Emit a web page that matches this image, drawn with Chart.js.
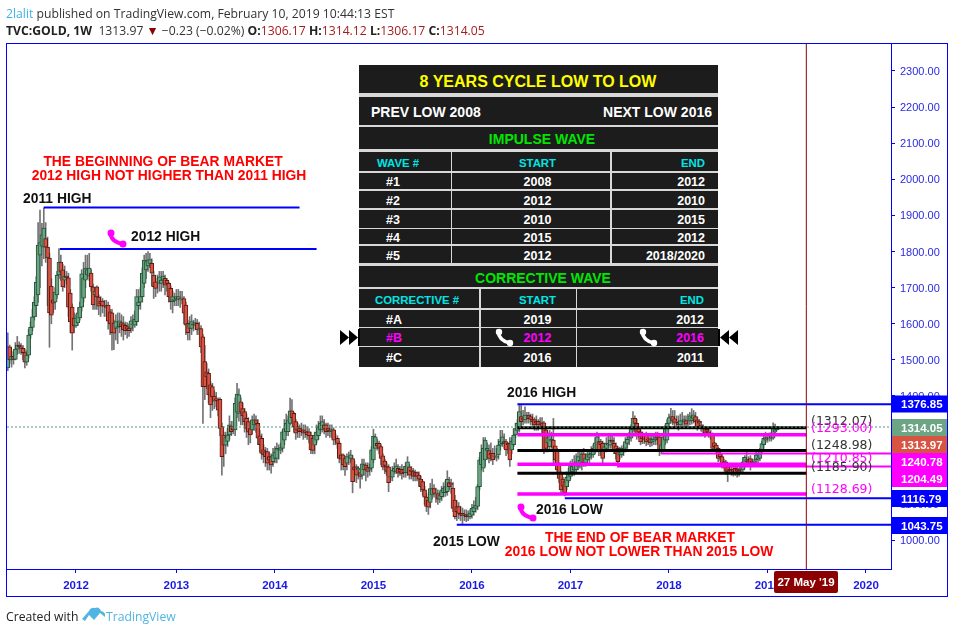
<!DOCTYPE html>
<html>
<head>
<meta charset="utf-8">
<title>TVC:GOLD 1W</title>
<script src="https://cdn.jsdelivr.net/npm/chart.js@4/dist/chart.umd.js"></script>
<style>
  html, body { margin: 0; padding: 0; background: #fff; }
  #page { position: relative; width: 955px; height: 633px; overflow: hidden; }
  #chart { position: absolute; left: 0; top: 0; }
  .head { position: absolute; left: 6px; font: 12.2px "Open Sans", sans-serif; color: #333; white-space: nowrap; }
  .head b { color: #222; }
  .red { color: #a61c1c; }
  .cell { position: absolute; background: #1c1c1c; color: #fff; font: bold 12.5px "Liberation Sans", sans-serif; white-space: nowrap; }
  .cell span { position: absolute; top: calc(50% + 1px); transform: translateY(-50%); }
  svg { position: absolute; overflow: visible; }
</style>
</head>
<body>
<div id="page">
  <canvas id="chart" width="955" height="633"></canvas>
  <div class="head" style="top:5px"><span style="color:#3bb3e4">2lalit</span> published on TradingView.com, February 10, 2019 10:44:13 EST</div>
  <div class="head" style="top:22px"><b>TVC:GOLD, 1W</b>&nbsp; 1313.97 <span style="color:#8b0000">▼</span> −0.23 (−0.02%) <b>O:</b><span class="red">1306.17</span> <b>H:</b><span class="red">1314.12</span> <b>L:</b><span class="red">1306.17</span> <b>C:</b><span class="red">1314.05</span></div>
  <div class="head" style="top:608px;color:#222">Created with</div>
  <svg style="left:82px;top:606px" width="24" height="17"><path d="M0 13 L7 5 Q9 1 13 2 Q17 0 19 5 Q24 6 23 11 L18 7 L12 14 L7 9 L3 15 Z" fill="#50b5e3"/></svg>
  <div class="head" style="left:106px;top:608px;color:#50b5e3">TradingView</div>
  <div id="board"></div>
</div>
<script>
// weekly bars, week 0 = late April 2011
const opens = [
  1478,1536,1500,1510,1501,1530,1541,1536,1532,1520,
  1494,1513,1569,1590,1619,1650,1680,1790,1815,1812,
  1836,1812,1782,1704,1666,1660,1680,1735,1771,1749,
  1721,1732,1727,1685,1646,1616,1594,1602,1616,1646,
  1671,1721,1735,1732,1740,1702,1680,1702,1674,1663,
  1663,1652,1650,1652,1633,1630,1602,1587,1590,1592,
  1603,1600,1596,1592,1588,1587,1597,1596,1606,1650,
  1660,1675,1712,1749,1760,1767,1767,1735,1716,1712,
  1712,1712,1721,1726,1720,1712,1698,1661,1664,1668,
  1668,1668,1670,1670,1652,1601,1587,1587,1600,1596,
  1601,1583,1587,1564,1495,1467,1463,1431,1426,1400,
  1392,1389,1391,1315,1292,1264,1274,1292,1317,1315,
  1306,1355,1352,1384,1365,1357,1338,1329,1310,1306,
  1320,1334,1324,1290,1283,1251,1246,1246,1232,1232,
  1218,1227,1227,1250,1250,1255,1278,1301,1301,1324,
  1359,1352,1329,1315,1311,1306,1306,1303,1301,1301,
  1292,1283,1264,1278,1290,1306,1306,1320,1320,1311,
  1305,1301,1306,1283,1283,1269,1237,1237,1227,1214,
  1227,1227,1227,1204,1204,1195,1188,1181,1195,1209,
  1203,1195,1200,1223,1255,1269,1269,1260,1234,1220,
  1206,1204,1175,1175,1191,1191,1200,1197,1197,1197,
  1188,1188,1204,1195,1191,1188,1188,1181,1170,1163,
  1140,1120,1112,1105,1126,1144,1130,1130,1114,1121,
  1132,1132,1135,1160,1158,1145,1112,1094,1094,1075,
  1075,1070,1072,1070,1066,1070,1080,1089,1094,1149,
  1210,1200,1223,1249,1249,1241,1241,1233,1230,1237,
  1264,1268,1274,1274,1269,1269,1251,1265,1292,1305,
  1310,1343,1338,1334,1340,1347,1343,1335,1335,1330,
  1330,1326,1326,1326,1306,1270,1260,1275,1278,1262,
  1250,1209,1186,1170,1163,1149,1165,1177,1190,1195,
  1195,1206,1206,1215,1240,1215,1223,1230,1237,1237,
  1251,1251,1274,1274,1269,1251,1255,1264,1264,1278,
  1269,1262,1255,1237,1237,1245,1255,1269,1283,1283,
  1306,1338,1324,1310,1301,1290,1292,1292,1280,1282,
  1272,1275,1278,1287,1287,1251,1251,1278,1278,1324,
  1340,1343,1337,1330,1327,1320,1330,1328,1332,1330,
  1330,1332,1336,1343,1334,1330,1320,1312,1310,1308,
  1301,1296,1292,1270,1264,1255,1240,1232,1218,1218,
  1204,1197,1198,1196,1200,1198,1195,1195,1195,1209,
  1218,1224,1227,1220,1216,1223,1225,1227,1246,1265,
  1278,1284,1281,1283,1283,1300,1306
];
const highs = [
  1575,1541,1525,1522,1548,1565,1550,1545,1540,1530,
  1525,1585,1605,1640,1675,1730,1880,1915,1878,1921,
  1880,1840,1795,1725,1680,1700,1745,1808,1790,1765,
  1760,1745,1740,1695,1655,1630,1625,1645,1660,1750,
  1770,1790,1790,1795,1750,1710,1700,1705,1680,1675,
  1670,1665,1665,1660,1640,1640,1610,1625,1630,1630,
  1625,1620,1605,1603,1600,1620,1625,1635,1695,1695,
  1700,1755,1790,1795,1800,1795,1780,1745,1725,1735,
  1745,1745,1745,1735,1725,1715,1705,1690,1685,1695,
  1695,1690,1690,1675,1660,1610,1620,1625,1610,1615,
  1612,1605,1595,1570,1540,1490,1475,1440,1435,1415,
  1410,1395,1395,1325,1300,1300,1310,1345,1330,1330,
  1395,1435,1420,1395,1380,1365,1350,1340,1325,1345,
  1350,1345,1335,1305,1295,1265,1258,1255,1245,1240,
  1255,1260,1270,1265,1270,1305,1335,1350,1345,1394,
  1390,1355,1335,1325,1320,1325,1320,1320,1315,1310,
  1300,1290,1300,1320,1330,1345,1345,1335,1325,1325,
  1320,1320,1312,1295,1290,1275,1240,1240,1232,1240,
  1245,1250,1235,1220,1210,1205,1195,1225,1225,1215,
  1215,1212,1260,1308,1295,1280,1275,1265,1240,1225,
  1215,1210,1190,1205,1215,1225,1210,1205,1210,1205,
  1215,1232,1210,1205,1200,1195,1190,1190,1178,1165,
  1150,1130,1120,1158,1170,1155,1145,1140,1135,1150,
  1160,1165,1193,1175,1170,1160,1125,1110,1105,1095,
  1090,1085,1085,1082,1085,1100,1110,1120,1155,1230,
  1265,1285,1285,1270,1265,1270,1255,1262,1255,1280,
  1305,1305,1295,1280,1270,1285,1285,1310,1325,1335,
  1378,1375,1360,1370,1355,1355,1350,1350,1340,1345,
  1335,1340,1340,1330,1310,1300,1305,1300,1338,1260,
  1255,1215,1190,1175,1165,1190,1200,1220,1225,1235,
  1240,1250,1245,1250,1255,1240,1250,1245,1260,1265,
  1285,1300,1290,1280,1275,1270,1285,1295,1290,1290,
  1285,1270,1260,1258,1262,1265,1285,1295,1300,1320,
  1357,1345,1335,1315,1305,1300,1295,1300,1292,1290,
  1290,1295,1300,1300,1295,1270,1295,1320,1335,1350,
  1366,1360,1360,1345,1345,1350,1355,1345,1345,1350,
  1355,1365,1360,1355,1342,1335,1330,1320,1315,1312,
  1310,1305,1298,1272,1268,1258,1245,1238,1225,1222,
  1210,1205,1205,1202,1206,1203,1200,1210,1230,1235,
  1250,1232,1235,1225,1225,1245,1240,1255,1275,1290,
  1300,1295,1298,1300,1326,1322,1316
];
const lows = [
  1470,1490,1480,1488,1500,1515,1518,1515,1500,1478,
  1485,1505,1560,1580,1610,1620,1660,1700,1760,1780,
  1770,1650,1535,1600,1630,1640,1670,1725,1720,1690,
  1700,1710,1620,1575,1527,1575,1590,1595,1610,1635,
  1660,1700,1725,1720,1690,1640,1640,1640,1625,1620,
  1630,1620,1620,1585,1570,1527,1528,1555,1545,1575,
  1565,1555,1570,1560,1565,1575,1580,1590,1595,1640,
  1640,1660,1700,1725,1745,1755,1705,1670,1675,1685,
  1690,1690,1700,1680,1690,1660,1640,1630,1650,1650,
  1650,1645,1655,1600,1570,1555,1555,1570,1580,1585,
  1570,1570,1520,1324,1390,1420,1380,1340,1360,1365,
  1370,1345,1290,1181,1205,1240,1260,1280,1290,1295,
  1290,1340,1330,1320,1320,1300,1285,1265,1270,1295,
  1305,1300,1265,1245,1225,1215,1205,1195,1195,1186,
  1205,1215,1215,1225,1240,1245,1265,1290,1290,1320,
  1325,1300,1280,1285,1285,1290,1280,1285,1280,1270,
  1240,1240,1240,1270,1280,1295,1300,1295,1285,1290,
  1285,1285,1265,1265,1255,1215,1195,1195,1180,1195,
  1210,1215,1132,1165,1160,1170,1145,1170,1180,1165,
  1175,1180,1190,1215,1270,1250,1240,1210,1195,1185,
  1180,1135,1165,1165,1185,1185,1175,1180,1170,1175,
  1175,1180,1170,1170,1165,1165,1165,1150,1135,1125,
  1100,1080,1072,1090,1115,1120,1105,1100,1105,1110,
  1120,1122,1125,1140,1130,1080,1060,1055,1060,1055,
  1046,1055,1052,1055,1060,1062,1070,1078,1085,1140,
  1195,1190,1205,1225,1215,1220,1210,1225,1220,1225,
  1250,1260,1255,1235,1240,1205,1240,1260,1285,1295,
  1300,1315,1320,1325,1325,1325,1320,1310,1305,1305,
  1305,1310,1290,1240,1245,1245,1250,1260,1215,1210,
  1185,1160,1130,1130,1123,1140,1160,1170,1180,1180,
  1190,1195,1200,1195,1205,1205,1220,1215,1225,1230,
  1240,1245,1235,1235,1215,1245,1245,1250,1255,1255,
  1240,1225,1205,1225,1230,1235,1245,1255,1265,1275,
  1300,1300,1280,1285,1265,1268,1268,1262,1265,1260,
  1262,1265,1265,1265,1235,1240,1245,1265,1270,1315,
  1325,1320,1310,1310,1305,1312,1318,1315,1310,1315,
  1320,1322,1325,1315,1305,1310,1302,1295,1285,1290,
  1285,1280,1250,1250,1240,1218,1220,1200,1200,1183,
  1163,1185,1180,1178,1180,1175,1178,1185,1190,1200,
  1205,1205,1195,1205,1208,1210,1215,1220,1240,1255,
  1270,1272,1275,1275,1280,1292,1306
];
const closes = [
  1536,1500,1510,1501,1530,1541,1536,1532,1520,1494,
  1513,1569,1590,1619,1660,1715,1818,1825,1846,1865,
  1812,1782,1630,1624,1657,1688,1735,1771,1743,1702,
  1732,1727,1646,1605,1574,1594,1616,1630,1646,1738,
  1727,1754,1750,1754,1702,1652,1690,1674,1649,1655,
  1649,1649,1645,1607,1600,1575,1574,1606,1592,1608,
  1592,1583,1581,1584,1581,1608,1600,1612,1675,1660,
  1675,1740,1776,1772,1776,1778,1740,1703,1698,1712,
  1730,1721,1732,1707,1712,1675,1661,1675,1668,1675,
  1675,1666,1672,1629,1596,1575,1600,1606,1596,1603,
  1583,1587,1536,1426,1426,1453,1403,1375,1398,1386,
  1389,1361,1310,1232,1264,1285,1292,1320,1301,1306,
  1380,1405,1403,1355,1345,1329,1310,1300,1292,1334,
  1334,1324,1283,1265,1241,1237,1232,1214,1222,1209,
  1237,1245,1255,1252,1257,1301,1310,1324,1334,1359,
  1340,1315,1297,1305,1301,1302,1297,1300,1292,1290,
  1251,1249,1292,1300,1315,1325,1329,1310,1301,1305,
  1301,1307,1278,1283,1269,1227,1225,1209,1204,1232,
  1227,1237,1163,1195,1181,1200,1177,1212,1210,1195,
  1191,1200,1251,1289,1287,1262,1255,1227,1203,1208,
  1191,1160,1178,1195,1200,1206,1186,1190,1184,1188,
  1205,1218,1181,1191,1177,1180,1177,1170,1149,1140,
  1120,1094,1092,1144,1144,1130,1130,1114,1126,1140,
  1145,1149,1169,1149,1155,1089,1066,1080,1075,1070,
  1068,1072,1066,1066,1076,1089,1092,1098,1149,1223,
  1245,1255,1278,1255,1227,1236,1223,1235,1233,1264,
  1275,1287,1270,1251,1265,1223,1275,1292,1310,1324,
  1357,1329,1335,1347,1340,1337,1335,1328,1320,1325,
  1320,1325,1310,1250,1255,1285,1292,1280,1255,1223,
  1195,1172,1140,1150,1132,1175,1186,1209,1205,1210,
  1218,1232,1222,1240,1215,1228,1240,1238,1242,1255,
  1270,1287,1246,1265,1227,1260,1269,1268,1278,1272,
  1251,1240,1218,1245,1255,1250,1274,1280,1287,1310,
  1338,1324,1292,1300,1273,1282,1280,1273,1278,1270,
  1280,1278,1287,1280,1246,1265,1287,1310,1324,1340,
  1343,1330,1325,1328,1320,1332,1332,1335,1322,1330,
  1345,1340,1348,1328,1315,1325,1312,1310,1297,1302,
  1294,1292,1255,1260,1246,1227,1232,1209,1212,1191,
  1191,1193,1192,1191,1188,1192,1189,1202,1218,1230,
  1224,1216,1213,1216,1220,1237,1228,1251,1268,1283,
  1285,1281,1284,1290,1310,1306,1314
];

const yearLabels = ['2012', '2013', '2014', '2015', '2016', '2017', '2018', '2019', '2020'];
const yearWeeks = [36, 89, 141, 193, 245, 297, 349, 401, 453];
const priceTicks = [1000, 1100, 1200, 1300, 1400, 1500, 1600, 1700, 1800, 1900, 2000, 2100, 2200, 2300];

// horizontal studies: price, first week, last week
const blueLevels = [[1922, 19, 154], [1807, 27.5, 163], [1376.85, 269, 466.2], [1116.79, 294, 466.2], [1043.75, 237, 466.2]];
const blackLevels = [[1312.07, 269, 421.5], [1248.98, 269, 421.5], [1185.90, 269, 421.5]];
const magentaLevels = [[1293.00, 269, 421.5], [1210.85, 269, 421.5], [1128.69, 269, 421.5]];
const thinMagentaLevels = [[1240.78, 345, 466.2], [1204.49, 321.6, 466.2]];
const lastPrice = 1314.05;
const markerWeek = 421.5;

const weekMin = -0.42, weekMax = 466.2, priceMin = 921, priceMax = 2374.6;

const weeks = closes.map((c, i) => i);
const isUp = weeks.map(i => closes[i] >= opens[i]);

function levelDataset(level, color, width) {
  return {
    type: 'line',
    data: [{ x: level[1], y: level[0] }, { x: level[2], y: level[0] }],
    borderColor: color,
    borderWidth: width,
    pointRadius: 0,
    order: 1
  };
}

const texts = [
  ['2011 HIGH', 23, 199, '#111', 'left'],
  ['2012 HIGH', 131, 237, '#111', 'left'],
  ['2016 HIGH', 507, 393, '#111', 'left'],
  ['2016 LOW', 536, 510, '#111', 'left'],
  ['2015 LOW', 433, 542, '#111', 'left'],
  ['THE BEGINNING OF BEAR MARKET', 163, 162, '#ff0000', 'center'],
  ['2012 HIGH NOT HIGHER THAN 2011 HIGH', 169, 176, '#ff0000', 'center'],
  ['THE END OF BEAR MARKET', 640, 538, '#ff0000', 'center'],
  ['2016 LOW NOT LOWER THAN 2015 LOW', 639, 552, '#ff0000', 'center']
];
const notes = [
  ['(1312.07)', 422, '#333'], ['(1293.00)', 429, '#ff00ff'], ['(1248.98)', 446, '#333'],
  ['(1210.85)', 459, '#ff00ff'], ['(1185.90)', 468, '#333'], ['(1128.69)', 490, '#ff00ff']
];
const tags = [
  ['1376.85', 404, '#0000ff'], ['1314.05', 427.5, '#6ba583'], ['1313.97', 444.5, '#d75442'],
  ['1240.78', 461.5, '#ff00ff'], ['1204.49', 478.5, '#ff00ff'], ['1116.79', 498.5, '#0000ff'], ['1043.75', 525.5, '#0000ff']
];

function phone(ctx, x, y, s, color) {
  ctx.save();
  ctx.translate(x, y);
  ctx.scale(s, s);
  ctx.strokeStyle = color;
  ctx.fillStyle = color;
  ctx.lineWidth = 4;
  ctx.lineCap = 'round';
  ctx.beginPath();
  ctx.moveTo(2, 3);
  ctx.quadraticCurveTo(3, 13, 15, 15);
  ctx.stroke();
  ctx.beginPath();
  ctx.arc(3, 4, 3.5, 0, Math.PI * 2);
  ctx.arc(15, 15, 3.5, 0, Math.PI * 2);
  ctx.fill();
  ctx.restore();
}

const overlay = {
  id: 'overlay',
  beforeDraw(chart) {
    const c = chart.ctx;
    c.save();
    c.strokeStyle = '#0000ff';
    c.lineWidth = 1;
    c.strokeRect(6.5, 43.5, 941, 553);
    c.restore();
  },
  afterDraw(chart) {
    const c = chart.ctx;
    c.save();
    c.textBaseline = 'middle';
    c.font = 'bold 13.85px "Liberation Sans", sans-serif';
    texts.forEach(t => {
      c.fillStyle = t[3];
      c.textAlign = t[4];
      c.fillText(t[0], t[1], t[2]);
    });
    c.textAlign = 'left';
    c.font = '12.5px "DejaVu Sans", sans-serif';
    notes.forEach(n => {
      c.fillStyle = n[2];
      c.fillText(n[0], 811, n[1]);
    });
    phone(c, 108, 229, 1, '#ff00ff');
    phone(c, 518, 503, 1, '#ff00ff');
    // price tags on the right axis
    c.font = 'bold 11.5px "Liberation Sans", sans-serif';
    tags.forEach(t => {
      c.fillStyle = t[2];
      c.fillRect(892, t[1] - 8.5, 55, 17);
      c.fillStyle = '#fff';
      c.fillText(t[0], 901, t[1] + 1);
    });
    // crosshair date tag
    c.fillStyle = '#8b0000';
    c.beginPath();
    c.roundRect(774, 571, 64, 22, 2);
    c.fill();
    c.fillStyle = '#fff';
    c.textAlign = 'center';
    c.fillText("27 May '19", 806, 583);
    c.restore();
  }
};

new Chart(document.getElementById('chart'), {
  data: {
    datasets: [
      {
        type: 'bar',
        data: weeks.map(i => ({ x: i, y: [lows[i], highs[i]] })),
        backgroundColor: '#737375',
        barThickness: 1,
        grouped: false,
        order: 4
      },
      {
        type: 'bar',
        data: weeks.map(i => ({ x: i, y: [opens[i], closes[i]] })),
        backgroundColor: weeks.map(i => isUp[i] ? '#6ba583' : '#d75442'),
        borderColor: weeks.map(i => isUp[i] ? '#225437' : '#5b1a13'),
        borderWidth: 1,
        borderSkipped: false,
        barThickness: 4,
        grouped: false,
        order: 3
      },
      ...blackLevels.map(l => levelDataset(l, '#000000', 3)),
      ...magentaLevels.map(l => levelDataset(l, '#ff00ff', 3.5)),
      ...thinMagentaLevels.map(l => levelDataset(l, '#ff00ff', 2)),
      ...blueLevels.map(l => levelDataset(l, '#0000ff', 2)),
      {
        type: 'line',
        data: [{ x: weekMin, y: lastPrice }, { x: weekMax, y: lastPrice }],
        borderColor: '#5f9c7c',
        borderWidth: 1,
        borderDash: [2, 2],
        pointRadius: 0,
        order: 0
      },
      {
        type: 'line',
        data: [{ x: markerWeek, y: priceMin }, { x: markerWeek, y: priceMax }],
        borderColor: '#8b0000',
        borderWidth: 1,
        pointRadius: 0,
        order: 0
      }
    ]
  },
  options: {
    responsive: false,
    animation: false,
    layout: { padding: { left: 7, top: 44, right: 8, bottom: 37 } },
    plugins: { legend: { display: false }, tooltip: { enabled: false } },
    scales: {
      x: {
        type: 'linear',
        offset: false,
        min: weekMin,
        max: weekMax,
        afterFit(scale) { scale.height = 27; },
        afterBuildTicks(scale) { scale.ticks = yearWeeks.map(v => ({ value: v })); },
        border: { color: '#0000ff' },
        grid: { offset: false, drawOnChartArea: false, color: '#0000ff', tickLength: 4 },
        ticks: {
          autoSkip: false,
          maxRotation: 0,
          padding: 6,
          color: '#1a1ae6',
          font: { family: '"Liberation Sans", sans-serif', size: 11.5, weight: 'bold' },
          callback: v => yearLabels[yearWeeks.indexOf(v)]
        }
      },
      y: {
        position: 'right',
        min: priceMin,
        max: priceMax,
        afterFit(scale) { scale.width = 56; },
        afterBuildTicks(scale) { scale.ticks = priceTicks.map(v => ({ value: v })); },
        border: { color: '#0000ff' },
        grid: { offset: false, drawOnChartArea: false, color: '#0000ff', tickLength: 4 },
        ticks: {
          autoSkip: false,
          padding: 5,
          color: '#2a2ae0',
          font: { family: '"Liberation Sans", sans-serif', size: 11, lineHeight: '2px' },
          // blank first line drops the text by a pixel
          callback: v => ['', v.toFixed(2)]
        }
      }
    }
  },
  plugins: [overlay]
});

// the wave table sits on top of the chart
const board = document.getElementById('board');
function box(x, y, w, h, bg) {
  const d = document.createElement('div');
  d.className = 'cell';
  d.style.cssText = `left:${x}px;top:${y}px;width:${w}px;height:${h}px;background:${bg}`;
  board.appendChild(d);
  return d;
}
function put(d, text, at, align, color, size, nudge) {
  const s = document.createElement('span');
  s.textContent = text;
  s.style.color = color || '#fff';
  if (size) s.style.fontSize = size + 'px';
  if (nudge) s.style.top = `calc(50% + ${nudge}px)`;
  const left = at - parseFloat(d.style.left);
  if (align === 'left') s.style.left = left + 'px';
  if (align === 'center') { s.style.left = left + 'px'; s.style.transform = 'translate(-50%,-50%)'; }
  if (align === 'right') s.style.right = (parseFloat(d.style.left) + parseFloat(d.style.width) - at) + 'px';
  d.appendChild(s);
}

box(359, 65, 359, 302, '#d8d8d8');
const yellow = '#ffff00', green = '#00e600', cyan = '#00e5e5', pink = '#ff00ff';

put(box(359, 65, 359, 28, '#1c1c1c'), '8 YEARS CYCLE LOW TO LOW', 538, 'center', yellow, 16, 3);
const prev = box(359, 97, 359, 28, '#1c1c1c');
put(prev, 'PREV LOW 2008', 371, 'left', '#fff', 14);
put(prev, 'NEXT LOW 2016', 712, 'right', '#fff', 14);
put(box(359, 127, 359, 22, '#1c1c1c'), 'IMPULSE WAVE', 542, 'center', green, 14);
put(box(359, 266, 359, 21, '#1c1c1c'), 'CORRECTIVE WAVE', 543, 'center', green, 14);

const headSize = 11.4;
const impulseRows = [
  [152, 19, 'WAVE #', 'START', 'END', cyan],
  [173, 16, '#1', '2008', '2012'],
  [191, 17, '#2', '2012', '2010'],
  [210, 18, '#3', '2010', '2015'],
  [229, 15, '#4', '2015', '2012'],
  [246, 17, '#5', '2012', '2018/2020']
];
impulseRows.forEach(r => {
  const size = r[5] ? headSize : 0;
  put(box(359, r[0], 92, r[1], '#1c1c1c'), r[2], r[5] ? 377 : 386, 'left', r[5], size);
  put(box(452, r[0], 158, r[1], '#1c1c1c'), r[3], 537.5, 'center', r[5], size);
  put(box(612, r[0], 106, r[1], '#1c1c1c'), r[4], 705, 'right', r[5], size);
});
const correctiveRows = [
  [289, 19, 'CORRECTIVE #', 'START', 'END', cyan],
  [310, 17, '#A', '2019', '2012'],
  [328, 18, '#B', '2012', '2016', pink],
  [347, 20, '#C', '2016', '2011']
];
correctiveRows.forEach(r => {
  const size = r[5] === cyan ? headSize : 0;
  put(box(359, r[0], 120, r[1], '#1c1c1c'), r[2], r[5] === cyan ? 375 : 386, 'left', r[5], size);
  put(box(481, r[0], 95, r[1], '#1c1c1c'), r[3], 537.5, 'center', r[5], size);
  put(box(577, r[0], 141, r[1], '#1c1c1c'), r[4], 704, 'right', r[5], size);
});

// white handsets and the black arrows around row #B
function svgShape(x, y, w, h, body) {
  const holder = document.createElement('div');
  holder.innerHTML = `<svg style="left:${x}px;top:${y}px" width="${w}" height="${h}">${body}</svg>`;
  board.appendChild(holder);
}
const handset = '<path d="M3 3 Q4 13 15 15" fill="none" stroke="#fff" stroke-width="3.5" stroke-linecap="round"/><circle cx="4" cy="4" r="3.2" fill="#fff"/><circle cx="15" cy="15" r="3.2" fill="#fff"/>';
svgShape(495, 328, 19, 18, handset);
svgShape(639, 328, 19, 18, handset);
svgShape(340, 328, 20, 19, '<polygon points="0,2 9,9.5 0,17" fill="#000"/><polygon points="9,2 18,9.5 9,17" fill="#000"/><rect x="18" y="1" width="2" height="17" fill="#000"/>');
svgShape(718, 328, 20, 19, '<rect x="0" y="1" width="2" height="17" fill="#000"/><polygon points="11,2 2,9.5 11,17" fill="#000"/><polygon points="20,2 11,9.5 20,17" fill="#000"/>');
</script>
</body>
</html>
